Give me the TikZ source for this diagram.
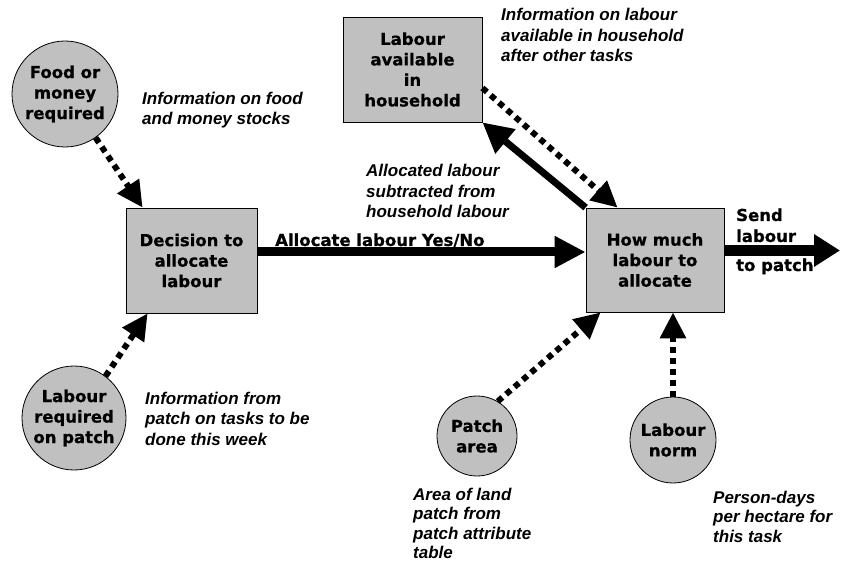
\documentclass[tikz,border=0pt]{standalone}
\usepackage{fontspec}
\newfontfamily\nodefnt{DejaVu Sans}[BoldFeatures={FakeBold=0.7}]
\newfontfamily\labfnt{Liberation Sans}
\usetikzlibrary{arrows.meta}
\definecolor{boxgray}{RGB}{192,192,192}
\begin{document}
\begin{tikzpicture}[x=1pt,y=-1pt,
  nodetext/.style={font=\nodefnt\bfseries\fontsize{16.5}{20.5}\selectfont},
  box/.style={nodetext,draw=black,line width=0.8pt,fill=boxgray,inner sep=0pt,align=center},
  circ/.style={nodetext,circle,draw=black,line width=0.8pt,fill=boxgray,inner sep=0pt,align=center},
  lab/.style={anchor=base west,inner sep=0pt,align=left,font=\labfnt\bfseries\itshape\fontsize{17}{20.5}\selectfont},
  boldlab/.style={anchor=base west,inner sep=0pt,align=left,font=\nodefnt\bfseries\fontsize{16.5}{21}\selectfont},
  dotarrow/.style={line width=6pt,dash pattern=on 6pt off 5pt,-{Triangle[length=26pt,width=25pt]}},
  diagarrow/.style={line width=7pt,-{Triangle[length=30pt,width=30pt]}},
  mainarrow/.style={line width=9pt,-{Triangle[length=31pt,width=30pt]}},
  sendarrow/.style={line width=11pt,-{Triangle[length=26pt,width=31pt]}}]
\useasboundingbox (0,0) rectangle (841,561);
\fill[white] (0,0) rectangle (841,561);

% nodes
\node[box,minimum width=131pt,minimum height=105pt] (dec) at (191.5,260.5) {Decision to\\allocate\\labour};
\node[box,minimum width=139pt,minimum height=105pt] (la) at (412.5,69.5) {Labour\\available\\in\\household};
\node[box,minimum width=138pt,minimum height=104pt] (hm) at (655,260) {How much\\labour to\\allocate};
\node[circ,minimum size=106pt] (food) at (65,94) {Food or\\money\\required};
\node[circ,minimum size=104pt] (req) at (74,418) {Labour\\required\\on patch};
\node[circ,minimum size=80pt] (patch) at (477,436) {Patch\\area};
\node[circ,minimum size=86pt] (norm) at (673,440) {Labour\\norm};
\coordinate (out) at (840,250.5);

% connectors
\draw[dotarrow] (food.-55) -- ([xshift=17pt]dec.north west);
\draw[dotarrow] (req.53) -- ([xshift=22pt]dec.south west);
\draw[mainarrow] ([yshift=8.5pt]dec.east) -- ([yshift=8.5pt]dec.east -| hm.west);
\draw[diagarrow] (hm.north west) -- (la.south east);
\draw[dotarrow] ([yshift=-18.5pt]la.east) -- ([xshift=32pt]hm.north west);
\draw[dotarrow] (patch.59) -- ([xshift=15pt]hm.south west);
\draw[dotarrow] (norm.north) -- (norm.north |- hm.south);
\draw[sendarrow] (hm.east |- out) -- (out);

% labels (anchor = baseline of last line)
\node[lab] (l1) at (142,125) {Information on food\\and money stocks};
\node[lab] (l2) at (501,62) {Information on labour\\available in household\\after other tasks};
\node[lab] (l3) at (366,218) {Allocated labour\\subtracted from\\household labour};
\node[boldlab] (l4) at (275,246) {Allocate labour Yes/No};
\node[boldlab] (l5) at (736,271) {Send\\labour\\[8pt]to patch};
\node[lab] (l6) at (145,445) {Information from\\patch on tasks to be\\done this week};
\node[lab,font=\labfnt\bfseries\itshape\fontsize{17}{19.5}\selectfont] (l7) at (413,558.5) {Area of land\\patch from\\patch attribute\\table};
\node[lab,font=\labfnt\bfseries\itshape\fontsize{17}{19.5}\selectfont] (l8) at (713,542) {Person-days\\per hectare for\\this task};
\end{tikzpicture}
\end{document}
